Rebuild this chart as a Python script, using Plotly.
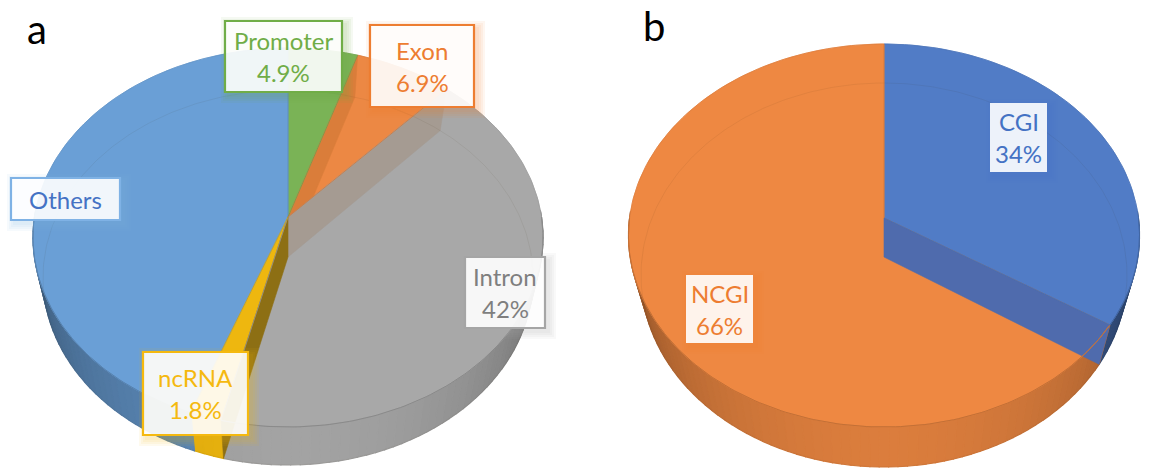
import math
import plotly.graph_objects as go

# Genomic annotation shares, clockwise from twelve o'clock
region_names = ["Promoter", "Exon", "Intron", "ncRNA", "Others"]
region_values = [4.9, 6.9, 42, 1.8, 44.4]
region_labelled = [True, True, True, True, False]
region_tops = ["#7ab356", "#ec8844", "#a8a8a8", "#eeb70f", "#6a9fd6"]
region_text = ["#70ad47", "#ed7d31", "#7f7f7f", "#f5b90f", "#4472c4"]
region_borders = ["#70ad47", "#ed7d31", "#a5a5a5", "#f5b90f", "#7fb2e5"]

# CpG island shares
cgi_names = ["CGI", "NCGI"]
cgi_values = [34, 66]
cgi_tops = ["#517cc6", "#ee8842"]
cgi_text = ["#4472c4", "#ed7d31"]


def rgb(hexcol):
    return tuple(int(hexcol[i:i + 2], 16) for i in (1, 3, 5))


def scaled(hexcol, f):
    return "rgb(%d,%d,%d)" % tuple(min(255, round(c * f)) for c in rgb(hexcol))


class Disc:
    """Perspective view of a horizontal disc: far side shrinks, near side grows."""

    def __init__(self, cx, cy, rx, up, down):
        self.cx, self.cy = cx, cy
        self.h = 2 * up * down / (up + down)
        self.k = self.h / up - 1
        self.rx = rx * math.sqrt(1 - self.k ** 2)

    def at(self, deg):
        t = math.radians(deg)
        w = 1 + self.k * math.cos(t)
        return (self.cx + self.rx * math.sin(t) / w,
                self.cy - self.h * math.cos(t) / w)

    def arc(self, a, b, step=1.0):
        n = max(2, int(abs(b - a) / step) + 1)
        return [self.at(a + (b - a) * i / (n - 1)) for i in range(n)]


fig = go.Figure()


def poly(pts, fill, width=0.6):
    xs, ys = zip(*pts)
    fig.add_trace(go.Scatter(
        x=list(xs) + [xs[0]], y=list(ys) + [ys[0]], mode="lines", fill="toself",
        fillcolor=fill, line=dict(color=fill, width=width),
        hoverinfo="skip", showlegend=False))


def stroke(pts, color, width=1.0):
    xs, ys = zip(*pts)
    fig.add_trace(go.Scatter(
        x=list(xs), y=list(ys), mode="lines", line=dict(color=color, width=width),
        hoverinfo="skip", showlegend=False))


def draw_pie(top, bottom, values, colors, wall_gains, cut_faces):
    total = sum(values)
    edges = [0]
    for v in values:
        edges.append(edges[-1] + 360 * v / total)

    # outer side wall of the front half, darkening towards the silhouette
    for i, col in enumerate(colors):
        a0, b0 = max(edges[i], 88), min(edges[i + 1], 272)
        if b0 <= a0:
            continue
        n = max(1, int((b0 - a0) / 2))
        for j in range(n):
            a = a0 + (b0 - a0) * j / n
            b = a0 + (b0 - a0) * (j + 1) / n
            off = abs((a + b) / 2 - 180) / 90
            shade = wall_gains[i] * (1 - 0.42 * off ** 1.7)
            poly(top.arc(a, b) + bottom.arc(b, a), scaled(col, shade), 1.2)

    # top faces
    for i, col in enumerate(colors):
        poly([(top.cx, top.cy)] + top.arc(edges[i], edges[i + 1]), col)

    # cut faces seen through the translucent top
    for edge_index, fill in cut_faces:
        deg = edges[edge_index]
        poly([(top.cx, top.cy), top.at(deg), bottom.at(deg), (bottom.cx, bottom.cy)], fill)

    # rim of the lower disc showing through, then the rim of each top face
    stroke(bottom.arc(0, 360), "rgba(60,40,20,0.07)", 1)
    for i, col in enumerate(colors):
        a, b = edges[i], edges[i + 1]
        front0, front1 = max(a, 90), min(b, 270)
        stroke(top.arc(a, b), scaled(col, 0.93), 0.8)
        if front1 > front0:
            stroke(top.arc(front0, front1), scaled(col, 0.82), 1)
        stroke([(top.cx, top.cy), top.at(a)], scaled(colors[i - 1], 0.88), 0.8)


draw_pie(Disc(288, 217, 255, 169, 210), Disc(288, 257, 245, 167, 208),
         region_values, region_tops, [0.95, 0.95, 0.97, 0.98, 0.86],
         [(1, "#da7d3a"), (2, "#a59b92"), (3, "#8d6f14")])
draw_pie(Disc(884, 218, 255.5, 174, 209), Disc(884, 257, 243, 174, 210),
         cgi_values, cgi_tops, [0.75, 0.92],
         [(1, "#4f6bad")])


def label_box(x0, y0, x1, y1, tint, border_width=2.2):
    # soft drop shadow built from stacked faint rectangles
    for grow in (7, 5, 3, 1):
        fig.add_shape(type="rect", x0=x0 + 3 - grow, x1=x1 + 4 + grow,
                      y0=y0 + 3 - grow, y1=y1 + 4 + grow,
                      fillcolor=tint, opacity=0.07, line_width=0, layer="above")
    fig.add_shape(type="rect", x0=x0, x1=x1, y0=y0, y1=y1,
                  fillcolor="rgba(255,255,255,0.9)",
                  line=dict(color=tint, width=border_width), layer="above")


def caption(x, y, text, color, size=24):
    fig.add_annotation(x=x, y=y, text=text, showarrow=False, xanchor="center",
                       yanchor="middle", font=dict(family="Lato", size=size, color=color))


region_boxes = [(225, 21, 342, 92), (370, 25, 474, 107), (465, 257, 545, 328),
                (143, 352, 248, 435), (11, 178, 120, 220)]
for name, value, show, box, tcol, bcol in zip(region_names, region_values, region_labelled,
                                              region_boxes, region_text, region_borders):
    label_box(*box, bcol)
    mid_x = (box[0] + box[2]) / 2
    mid_y = (box[1] + box[3]) / 2
    if show:
        caption(mid_x, mid_y - 16, name, tcol)
        caption(mid_x, mid_y + 16, f"{value}%", tcol)
    else:
        caption(mid_x, mid_y, name, tcol)

cgi_boxes = [(990, 103, 1047, 172), (686, 275, 753, 343)]
for name, value, box, tcol in zip(cgi_names, cgi_values, cgi_boxes, cgi_text):
    label_box(*box, tcol, 0)
    mid_x = (box[0] + box[2]) / 2
    mid_y = (box[1] + box[3]) / 2
    caption(mid_x, mid_y - 16, name, tcol)
    caption(mid_x, mid_y + 16, f"{value}%", tcol)

caption(37, 29, "a", "#000000", 40)
caption(654, 26, "b", "#000000", 40)

fig.update_layout(
    width=1149, height=468, margin=dict(l=0, r=0, t=0, b=0),
    paper_bgcolor="white", plot_bgcolor="white", showlegend=False,
    xaxis=dict(range=[0, 1149], visible=False, fixedrange=True),
    yaxis=dict(range=[468, 0], visible=False, fixedrange=True),
)
fig.write_html("out.html", config={"displayModeBar": False})
